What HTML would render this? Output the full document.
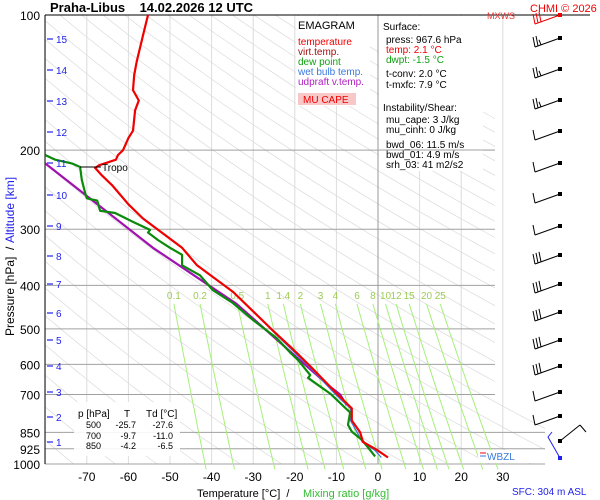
<!DOCTYPE html>
<html><head><meta charset="utf-8"><style>
html,body{margin:0;padding:0;background:#fff}
svg{display:block;font-family:"Liberation Sans",sans-serif}
</style></head><body>
<svg id="c" width="600" height="500" viewBox="0 0 600 500" xmlns="http://www.w3.org/2000/svg">
<defs><clipPath id="clp"><polygon points="45,15 495,15 495,400 545,425 545,464 45,464"/></clipPath>
<clipPath id="plotclip"><rect x="45" y="15" width="550" height="460"/></clipPath></defs>
<g id="gAdiab" clip-path="url(#clp)"></g>
<g id="gGrid"></g>
<g id="gMix"></g>
<g id="gBoxes"></g>
<g id="gSeries" clip-path="url(#plotclip)"></g>
<g id="gText"></g>
<g id="gBarbs"></g>
</svg>
<script>
// ---- data ----
const tempP = [100,111,127,136,147,155,163,181,188,200,205,210,216,219,227,239,264,284,330,361,414,503,549,566,611,697,752,800,832,850,893,931,967];
const tempT = [-55.3,-56.5,-58,-58.6,-58.9,-57.5,-58.4,-58.9,-60,-61.3,-62.5,-63,-67,-68,-66.5,-64,-60,-56.5,-47.1,-43.5,-34.8,-25.4,-21,-19.5,-15.9,-9.9,-6.3,-6.3,-5,-4.3,-3.6,-0.2,2.4];
const dewP = [205,210,214,218,233,249,256,259,273,276,289,301,305,317,330,342,361,380,410,438,478,525,566,587,634,643,697,768,818,847,885,931,962];
const dewT = [-80,-77.6,-73.6,-71.6,-71.2,-70.4,-70,-67.5,-66.8,-63.2,-58.9,-54.8,-55.3,-52.9,-50,-47.1,-47.1,-42.8,-39.7,-34.9,-30,-24.3,-21,-19.2,-16.3,-16.8,-11.5,-6.7,-7.2,-6.3,-3.8,-1.9,-0.7];
const updP = [214,330,440,587,673,700,740];
const updT = [-80,-54.1,-34,-18.8,-11.5,-9.1,-7.5];
const wetP = [500,566,611,697,752,800,832,850,893,931,967];
const wetT = [-25.9,-19.9,-16.2,-10.4,-6.6,-6.6,-5.6,-5.0,-3.8,-0.8,0.8];
const pressTicks = [100,200,300,400,500,600,700,850,925,1000];
const tempTicks = [-70,-60,-50,-40,-30,-20,-10,0,10,20,30];
const mixVals = [0.1,0.2,0.5,1,1.4,2,3,4,6,8,10,12,15,20,25];
const altKm = [1,2,3,4,5,6,7,8,9,10,11,12,13,14,15];
const altY = [442,417,392,366,340,313,284,256,226,195,163,132,101,70,39];
const barbY = [15,38,69,100,131,163,194,226,255,284,312,340,366,392,416];
const barbN = [3,2.5,2.5,2.5,1,1,1,1,3,3,3,3,3,1,1];

// ---- axes ----
const NS='http://www.w3.org/2000/svg';
function yP(p){return 15+195*Math.log(p/100);}
function xT(t){return 378+4.16*t;}
function mk(tag,attrs,parent,txt){const e=document.createElementNS(NS,tag);for(const k in attrs)e.setAttribute(k,attrs[k]);if(txt!==undefined)e.textContent=txt;parent.appendChild(e);return e;}
const G=id=>document.getElementById(id);
const S='\u00a0';

// dry adiabats
for(let th=180;th<=500;th+=10){
  let d='';
  for(let p=95;p<=1060;p+=15){const t=th*Math.pow(p/1000,0.286)-273.15;d+=(d?'L':'M')+xT(t).toFixed(1)+','+yP(p).toFixed(1);}
  const e=mk('path',{d:d,fill:'none',stroke:'#dadada','stroke-width':0.7},G('gAdiab'));
  
  
}
// isotherms
for(let t=-80;t<=30;t+=10){
  const x=xT(t);
  const e=mk('line',{x1:x,x2:x,y1:15,y2:464,stroke:t===0?'#999':'#dcdcdc','stroke-width':1},G('gGrid'));
  
  
}
// isobars
pressTicks.forEach(p=>{
  const y=yP(p);
  const x2=p===100?590:(p>=850?545:495);
  const e=mk('line',{x1:45,x2:x2,y1:y,y2:y,stroke:p===100?'#000':'#a0a0a0','stroke-width':1},G('gGrid'));
  
  
  const l=mk('text',{x:40,y:y+5,'text-anchor':'end','font-size':12,fill:'#000'},G('gText'),String(p));
  
  
});
mk('line',{x1:45,x2:45,y1:15,y2:464,stroke:'#000','stroke-width':1},G('gGrid'));
tempTicks.forEach(t=>{
  const l=mk('text',{x:xT(t),y:481,'text-anchor':'middle','font-size':12,fill:'#000'},G('gText'),String(t));
  
  
});
// mixing ratio lines
function tdOf(w,p){const e=w*p/(622+w);const l=Math.log(e/6.112);return 243.5*l/(17.67-l);}
mixVals.forEach(w=>{
  let d='';
  for(let p=440;p<=1032;p+=12){d+=(d?'L':'M')+xT(tdOf(w,p)).toFixed(1)+','+yP(p).toFixed(1);}
  const e=mk('path',{d:d,fill:'none',stroke:'#a6ef7a','stroke-width':1},G('gMix'));
  
  
  const l=mk('text',{x:xT(tdOf(w,440)),y:299,'text-anchor':'middle','font-size':10,fill:'#9ccc55'},G('gMix'),String(w));
  
  
});
// altitude ticks
altKm.forEach((k,i)=>{
  mk('line',{x1:47,x2:53,y1:altY[i],y2:altY[i],stroke:'#2222ee','stroke-width':1.2},G('gText'));
  const l=mk('text',{x:56,y:altY[i]+4,'font-size':10,fill:'#2222ee'},G('gText'),String(k));
  
  
});
// boxes
const bx=G('gBoxes');
mk('rect',{x:296,y:16,width:74,height:90,fill:'#fff'},bx);
mk('rect',{x:379,y:16,width:104,height:155,fill:'#fff'},bx);
mk('line',{x1:379,x2:495,y1:150,y2:150,stroke:'#a0a0a0'},bx);
mk('rect',{x:298,y:93,width:58,height:12,fill:'#f8c8c8'},bx);
mk('rect',{x:74,y:402,width:106,height:54,fill:'#fff','fill-opacity':0.9},bx);
mk('rect',{x:478,y:450,width:52,height:13,fill:'#fff','fill-opacity':0.9},bx);

// series
function line(P,T,color,w,name){
  let d='';P.forEach((p,i)=>{d+=(i?'L':'M')+xT(T[i]).toFixed(1)+','+yP(p).toFixed(1);});
  const e=mk('path',{d:d,fill:'none',stroke:color,'stroke-width':w,'stroke-linejoin':'round'},G('gSeries'));
  
  
}
line(updP,updT,'#a010b0',2.2,'updraft-line');
line(wetP,wetT,'#3a7adf',1.3,'wet-bulb-line');
line(dewP,dewT,'#0a8a0a',2.2,'dew-point-line');
line(tempP,tempT,'#f00000',2.2,'temperature-line');
mk('line',{x1:80,x2:101,y1:167,y2:167,stroke:'#000'},G('gSeries'));

// texts
const tx=G('gText');
function T(x,y,s,sz,col,extra){return mk('text',Object.assign({x:x,y:y,'font-size':sz,fill:col},extra||{}),tx,s);}
let e;
e=T(50,12,'Praha-Libus'+S+S+S+S+'14.02.2026 12 UTC',13,'#000',{'font-weight':'bold'});
e=T(530,12,'CHMI © 2026',11,'#f00000');
e=T(487,19,'MXWS',9,'#f03030');
e=T(102,171,'Tropo',10,'#000');
e=T(298,29,'EMAGRAM',11,'#000');
[['temperature','#f00000'],['virt.temp.','#a01010'],['dew point','#10a010'],['wet bulb temp.','#3a7adf'],['udpraft v.temp.','#b020c0']].forEach((a,i)=>{
  const l=T(298,45+i*10,a[0],10,a[1]);
});
e=T(303,103,'MU CAPE',10,'#f00000');
[[383,30,'Surface:','#000'],[386,43,'press: 967.6 hPa','#000'],[386,53,'temp: 2.1 °C','#f00000'],[386,63,'dwpt: -1.5 °C','#10a010'],
 [386,77,'t-conv: 2.0 °C','#000'],[386,88,'t-mxfc: 7.9 °C','#000'],[383,111,'Instability/Shear:','#000'],
 [386,123,'mu_cape: 3 J/kg','#000'],[386,133,'mu_cinh: 0 J/kg','#000'],[386,148,'bwd_06: 11.5 m/s','#000'],
 [386,158,'bwd_01: 4.9 m/s','#000'],[386,168,'srh_03: 41 m2/s2','#000']].forEach(a=>{
  const l=T(a[0],a[1],a[2],10,a[3]);
});
e=T(78,417,'p [hPa]',10,'#000');
T(124,417,'T',10,'#000');T(146,417,'Td [°C]',10,'#000');
[['500','-25.7','-27.6',428],['700','-9.7','-11.0',439],['850','-4.2','-6.5',449]].forEach(r=>{
  T(101,r[3],r[0],9,'#000',{'text-anchor':'end'});T(136,r[3],r[1],9,'#000',{'text-anchor':'end'});T(173,r[3],r[2],9,'#000',{'text-anchor':'end'});
});
mk('line',{x1:480,x2:486,y1:453,y2:453,stroke:'#f00000'},tx);
mk('line',{x1:480,x2:486,y1:456,y2:456,stroke:'#3a7adf'},tx);
e=T(487,460,'WBZL',10,'#3a7adf');
e=T(197,497,'Temperature [°C]'+S+S+'/',11,'#000');
e=T(303,497,'Mixing ratio [g/kg]',11,'#33bb33');
e=T(512,495,'SFC: 304 m ASL',10,'#2222ee');
e=T(0,0,'Pressure [hPa]'+S+S+'/',12,'#000',{transform:'translate(14,336) rotate(-90)'});
e=T(0,0,'Altitude [km]',12,'#2222ee',{transform:'translate(14,243) rotate(-90)'});

// barbs
const gb=G('gBarbs');
barbY.forEach((y,i)=>{
  const col=i===0?'#f00000':'#000';
  const x0=560,tx0=535,ty=y+9;
  mk('line',{x1:x0,y1:y,x2:tx0,y2:ty,stroke:col,'stroke-width':1},gb);
  mk('rect',{x:x0-2,y:y-2,width:4,height:4,fill:col},gb);
  const n=barbN[i];
  for(let k=0;k<Math.ceil(n);k++){
    const f=k*0.12, bxp=tx0+(x0-tx0)*f, byp=ty+(y-ty)*f;
    const len=(k===Math.floor(n)&&n%1)?5:10;
    mk('line',{x1:bxp,y1:byp,x2:bxp-2,y2:byp-len,stroke:col,'stroke-width':1},gb);
  }
});
mk('line',{x1:560,y1:441,x2:580,y2:425,stroke:'#000'},gb);
mk('line',{x1:580,y1:425,x2:586,y2:432,stroke:'#000'},gb);
mk('rect',{x:558,y:439,width:4,height:4,fill:'#000'},gb);
mk('polyline',{points:'560,458 548,437 552,432',fill:'none',stroke:'#2222ee'},gb);
mk('rect',{x:558,y:456,width:4,height:4,fill:'#2222ee'},gb);
</script>
</body></html>
